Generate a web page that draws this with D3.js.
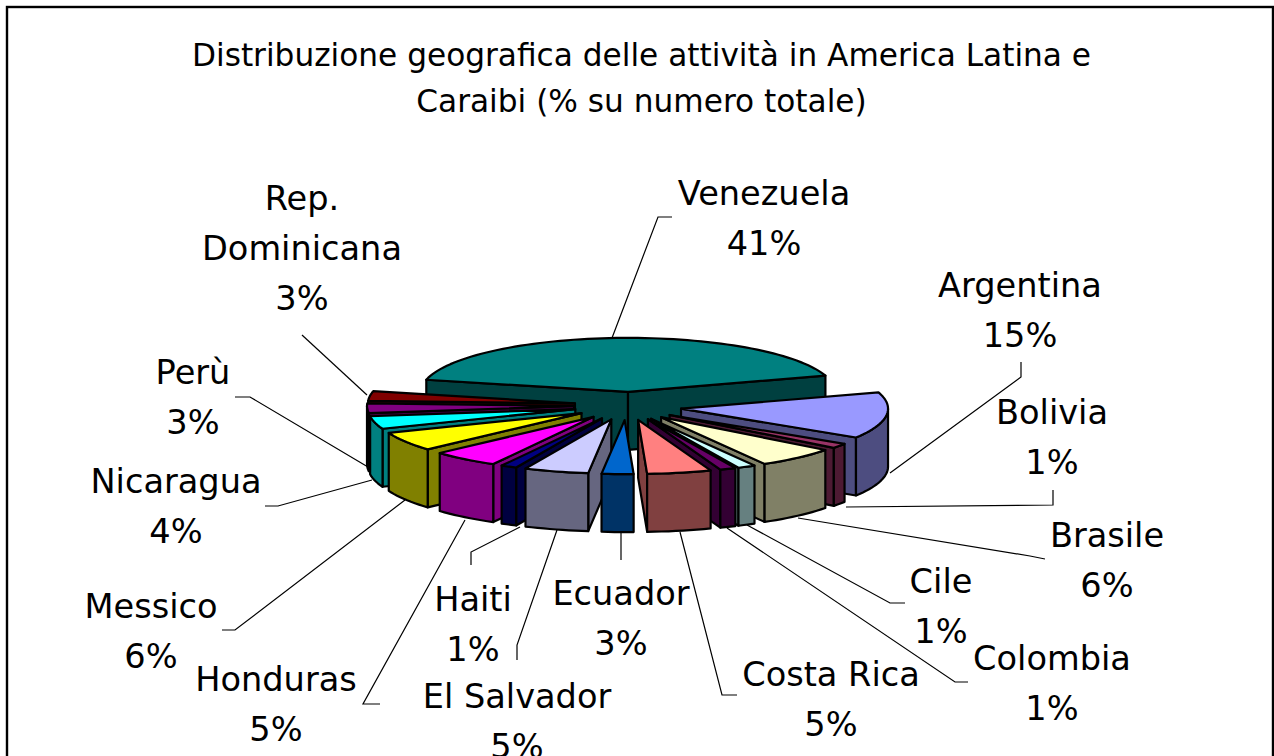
<!DOCTYPE html>
<html>
<head>
<meta charset="utf-8">
<script src="https://cdn.jsdelivr.net/npm/d3@7"></script>
<style>
html,body{margin:0;padding:0;background:#fff;overflow:hidden}
text{font-family:"DejaVu Sans",sans-serif;fill:#000}
</style>
</head>
<body>
<div id="chart"></div>
<script>
// values
var countries = ["Venezuela","Argentina","Bolivia","Brasile","Cile","Colombia","Costa Rica","Ecuador","El Salvador","Haiti","Honduras","Messico","Nicaragua","Perù","Rep. Dominicana"];
var shares = [41,15,1,6,1,1,5,3,5,1,5,6,4,3,3];
var topColors = ["#008080","#9999ff","#993366","#ffffcc","#ccffff","#660066","#ff8080","#0066cc","#ccccff","#000080","#ff00ff","#ffff00","#00ffff","#800080","#800000"];
var wallColors = ["#004040","#4d4d80","#4d1a33","#808066","#668080","#330033","#804040","#003366","#666680","#000040","#800080","#808000","#008080","#400040","#400000"];

// label layout: centre x, baselines, then leader polyline
var labelLines = [["Venezuela"],["Argentina"],["Bolivia"],["Brasile"],["Cile"],["Colombia"],["Costa Rica"],["Ecuador"],["El Salvador"],["Haiti"],["Honduras"],["Messico"],["Nicaragua"],["Perù"],["Rep.","Dominicana"]];
var labelX = [764,1020,1052,1107,941,1052,831,621,517,473,276,151,176,193,302];
var labelY = [205,297,424,547,593,670,686,605,708,611,691,618,493,384,210];
var leaders = [
  [[672,217],[658,217],[612,338]],
  [[1021,362],[1021,377],[890,473]],
  [[1053,490],[1053,505],[846,507]],
  [[1045,559],[1030,556],[798,518]],
  [[905,603],[890,603],[747,525]],
  [[968,682],[955,682],[727,528]],
  [[737,695],[722,695],[680,532]],
  [[621,560],[621,533]],
  [[517,660],[517,645],[557,530]],
  [[471,565],[471,552],[520,527]],
  [[380,704],[363,704],[465,520]],
  [[222,630],[235,630],[405,500]],
  [[265,506],[278,506],[372,480]],
  [[235,397],[250,397],[368,467]],
  [[302,335],[367,395]]
];

var width = 1274, height = 756;
var cx = 628, cy = 406, radius = 207, tilt = 0.261, explode = 54, depth = 58;

var svg = d3.select("#chart").append("svg")
  .attr("width",width)
  .attr("height",height);

svg.append("rect")
  .attr("x",7).attr("y",7)
  .attr("width",1266).attr("height",770)
  .attr("fill","#fff")
  .attr("stroke","#000")
  .attr("stroke-width",2.4);

svg.selectAll("text.title")
  .data(["Distribuzione geografica delle attività in America Latina e","Caraibi (% su numero totale)"])
  .enter().append("text")
    .attr("class","title")
    .attr("x",641.5)
    .attr("y",function(d,i){ return 66+i*46; })
    .attr("text-anchor","middle")
    .attr("font-size","31.2")
    .text(function(d){ return d; });

var lineGen = d3.line();
var rad = Math.PI/180;

// the picture's perspective bends the rim angles a little
var rimAngle = d3.scaleLinear()
  .domain([-73.8,73.8,128,131.4,153,156.6,160.2,178.2,189,207,210.6,228.6,286.2].map(function(a){ return a*rad; }))
  .range([-77,72.5,122.5,127.5,150,155,159.5,177.5,186.4,204.5,209,228,283].map(function(a){ return a*rad; }));

var startAngle = -shares[0]*1.8*rad;
var pie = d3.pie().sort(null)
  .startAngle(startAngle)
  .endAngle(startAngle+2*Math.PI);
var slices = pie(shares).map(function(d,i){
  d.i = i;
  d.mid = (d.startAngle+d.endAngle)/2;
  d.ox = cx+explode*Math.sin(d.mid);
  d.oy = cy-explode*tilt*Math.cos(d.mid);
  d.a0 = rimAngle(d.startAngle);
  d.a1 = rimAngle(d.endAngle);
  return d;
});

function rimPoint(d,a,drop){
  return [d.ox+radius*Math.sin(a), d.oy-radius*tilt*Math.cos(a)+(drop||0)];
}

function rim(d,a0,a1,drop){
  var n = Math.max(2,Math.ceil((a1-a0)/(2*rad)));
  return d3.range(n+1).map(function(k){
    return rimPoint(d,a0+(a1-a0)*k/n,drop);
  });
}

// painter's order, back slices first
var ordered = slices.slice().sort(function(a,b){
  return Math.cos(b.mid)-Math.cos(a.mid);
});

var groups = svg.selectAll("g.slice")
  .data(ordered)
  .enter().append("g")
    .attr("class","slice")
    .attr("stroke","#000")
    .attr("stroke-width",2.2)
    .attr("stroke-linejoin","round");

groups.each(function(d){
  var g = d3.select(this);
  var wall = wallColors[d.i];
  var apex = [d.ox,d.oy], apexLow = [d.ox,d.oy+depth];

  function cutFace(a){
    var p = rimPoint(d,a), q = rimPoint(d,a,depth);
    g.append("path")
      .attr("d",lineGen([apex,p,q,apexLow])+"Z")
      .attr("fill",wall);
  }
  if(Math.sin(d.a0)<0) cutFace(d.a0);
  if(Math.sin(d.a1)>0) cutFace(d.a1);

  // outer wall only where the rim faces the viewer
  var a0 = Math.max(d.a0,Math.PI/2), a1 = Math.min(d.a1,Math.PI*1.5);
  if(a1>a0){
    var upper = rim(d,a0,a1,0), lower = rim(d,a0,a1,depth).reverse();
    g.append("path")
      .attr("d",lineGen(upper.concat(lower))+"Z")
      .attr("fill",wall);
  }

  g.append("path")
    .attr("d",lineGen([apex].concat(rim(d,d.a0,d.a1,0)))+"Z")
    .attr("fill",topColors[d.i]);
});

svg.selectAll("path.leader")
  .data(leaders)
  .enter().append("path")
    .attr("class","leader")
    .attr("d",function(d){ return lineGen(d); })
    .attr("fill","none")
    .attr("stroke","#000")
    .attr("stroke-width",1.2);

svg.selectAll("g.label")
  .data(countries)
  .enter().append("g")
    .attr("class","label")
    .each(function(d,i){
      var rows = labelLines[i].concat([shares[i]+"%"]);
      d3.select(this).selectAll("text")
        .data(rows)
        .enter().append("text")
          .attr("x",labelX[i])
          .attr("y",function(r,k){ return labelY[i]+k*50; })
          .attr("text-anchor","middle")
          .attr("font-size","33.6")
          .text(function(r){ return r; });
    });
</script>
</body>
</html>
